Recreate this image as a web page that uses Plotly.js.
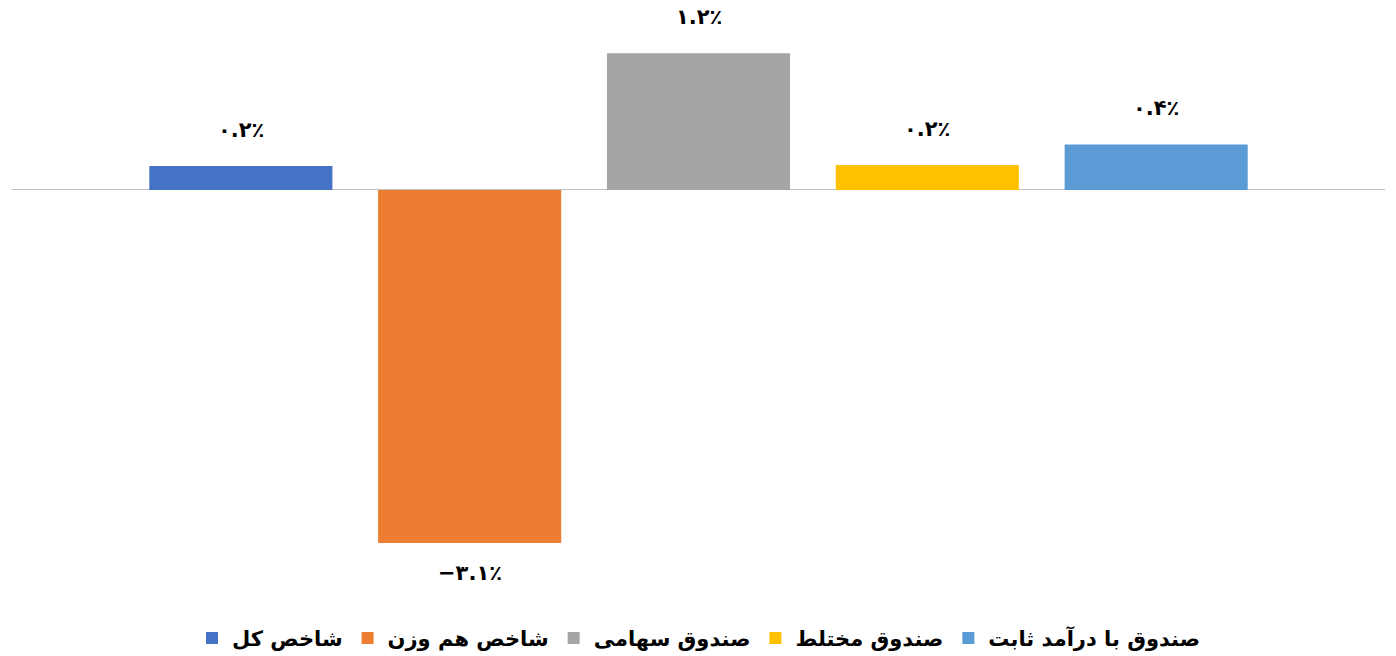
<!DOCTYPE html>
<html>
<head>
<meta charset="utf-8">
<script src="https://cdn.plot.ly/plotly-3.0.1.min.js"></script>
<style>html,body{margin:0;padding:0;background:#fff;}#chart{width:1396px;height:656px;}</style>
</head>
<body>
<div id="chart"></div>
<script>
const seriesNames = ["شاخص کل", "شاخص هم وزن", "صندوق سهامی", "صندوق مختلط", "صندوق با درآمد ثابت"];
const values = [0.21, -3.1, 1.2, 0.22, 0.4];
const valueLabels = ["۰.۲٪", "−۳.۱٪", "۱.۲٪", "۰.۲٪", "۰.۴٪"];
const colors = ["#4472c4", "#ed7d31", "#a5a5a5", "#ffc000", "#5b9bd5"];

const FONT = "'DejaVu Sans', 'Noto Sans', sans-serif";

const traces = seriesNames.map((name, i) => ({
  type: 'bar',
  name: name,
  x: [i],
  y: [values[i]],
  marker: {color: colors[i]},
  hoverinfo: 'skip'
}));

const annotations = seriesNames.map((name, i) => ({
  x: i,
  y: values[i],
  xref: 'x',
  yref: 'y',
  text: '<b>' + valueLabels[i] + '</b>',
  showarrow: false,
  yanchor: 'middle',
  xanchor: 'center',
  yshift: values[i] >= 0 ? 36 : -30,
  font: {family: FONT, size: 21, color: '#000'}
}));

const layout = {
  width: 1396,
  height: 656,
  margin: {l: 12, r: 11, t: 20, b: 56, autoexpand: false},
  paper_bgcolor: '#fff',
  plot_bgcolor: '#fff',
  barmode: 'overlay',
  bargap: 0.2,
  showlegend: true,
  legend: {
    orientation: 'h',
    x: 0.5, xanchor: 'center',
    y: -0.066, yanchor: 'middle',
    font: {family: FONT, size: 21, color: '#000', weight: 'bold'},
    traceorder: 'normal',
    itemwidth: 30
  },
  xaxis: {
    range: [-1, 5],
    showticklabels: false,
    showgrid: false,
    zeroline: false,
    showline: false,
    ticks: ''
  },
  yaxis: {
    range: [-3.6, 1.4926],
    showticklabels: false,
    showgrid: false,
    zeroline: true,
    zerolinecolor: '#bfbfbf',
    zerolinewidth: 1,
    showline: false,
    ticks: ''
  },
  annotations: annotations
};

Plotly.newPlot('chart', traces, layout, {displayModeBar: false, staticPlot: true});
</script>
</body>
</html>
